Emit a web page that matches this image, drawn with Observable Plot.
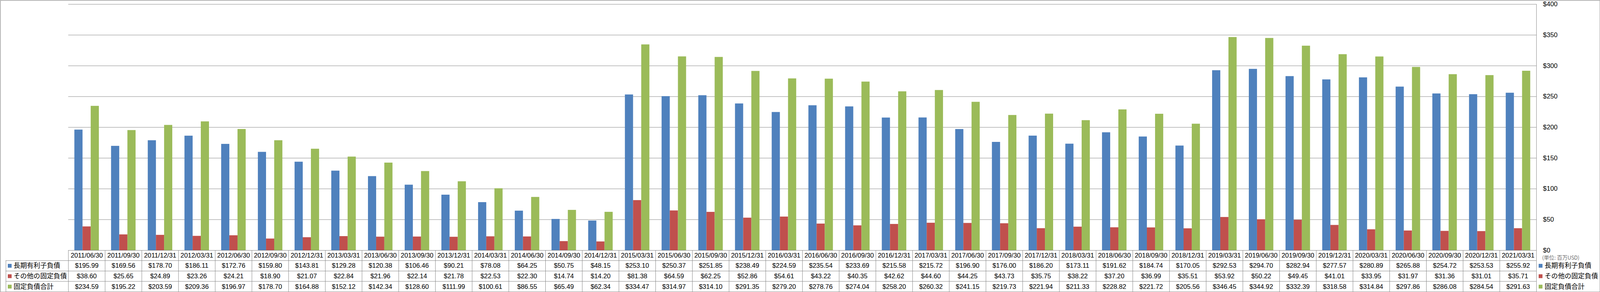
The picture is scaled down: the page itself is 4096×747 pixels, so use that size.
<!DOCTYPE html>
<html><head><meta charset="utf-8">
<script src="https://cdn.jsdelivr.net/npm/d3@7"></script>
<script src="https://cdn.jsdelivr.net/npm/@observablehq/plot@0.6"></script>
<style>html,body{margin:0;padding:0;background:#fff;overflow:hidden}</style>
</head><body><div id="chart"></div>
<script>
// ---- data ----
const categories = ["2011/06/30","2011/09/30","2011/12/31","2012/03/31","2012/06/30","2012/09/30","2012/12/31","2013/03/31","2013/06/30","2013/09/30","2013/12/31","2014/03/31","2014/06/30","2014/09/30","2014/12/31","2015/03/31","2015/06/30","2015/09/30","2015/12/31","2016/03/31","2016/06/30","2016/09/30","2016/12/31","2017/03/31","2017/06/30","2017/09/30","2017/12/31","2018/03/31","2018/06/30","2018/09/30","2018/12/31","2019/03/31","2019/06/30","2019/09/30","2019/12/31","2020/03/31","2020/06/30","2020/09/30","2020/12/31","2021/03/31"];
const seriesNames = ["長期有利子負債","その他の固定負債","固定負債合計"];
const longTermDebt = [195.99,169.56,178.70,186.11,172.76,159.80,143.81,129.28,120.38,106.46,90.21,78.08,64.25,50.75,48.15,253.10,250.37,251.85,238.49,224.59,235.54,233.69,215.58,215.72,196.90,176.00,186.20,173.11,191.62,184.74,170.05,292.53,294.70,282.94,277.57,280.89,265.88,254.72,253.53,255.92];
const otherFixed = [38.60,25.65,24.89,23.26,24.21,18.90,21.07,22.84,21.96,22.14,21.78,22.53,22.30,14.74,14.20,81.38,64.59,62.25,52.86,54.61,43.22,40.35,42.62,44.60,44.25,43.73,35.75,38.22,37.20,36.99,35.51,53.92,50.22,49.45,41.01,33.95,31.97,31.36,31.01,35.71];
const totalFixed = [234.59,195.22,203.59,209.36,196.97,178.70,164.88,152.12,142.34,128.60,111.99,100.61,86.55,65.49,62.34,334.47,314.97,314.10,291.35,279.20,278.76,274.04,258.20,260.32,241.15,219.73,221.94,211.33,228.82,221.72,205.56,346.45,344.92,332.39,318.58,314.84,297.86,286.08,284.54,291.63];
const yTicks = [0,50,100,150,200,250,300,350,400];
const unitLabel = "(単位: 百万USD)";

// ---- layout / style ----
const colors = ["#4F81BD","#C0504D","#9BBB59"];
const series = [longTermDebt, otherFixed, totalFixed];
const S = 4096/5876;
const W = 4096, H = 747;
const ml = 250.5*S, mr = 234*S, mt = 15*S, mb = (1071-917.5)*S;
const bw = (W - ml - mr)/categories.length;
const pxPerUnit = (H - mt - mb)/400;
const u = px => -px*S/pxPerUnit;           // reference px below baseline -> y units
const rowLines = [37.5, 75.8, 113.8, 152.5];
const headerCenter = 18.7;
const rowCenters = [56.6, 94.8, 133];
const barOff = 22.6*S, barW = 30*S;
const gray = "#868686";
const latin = "'Liberation Sans','Noto Sans CJK JP',sans-serif";
const cjk = "'Noto Sans CJK JP','Noto Sans',sans-serif";
const fs = 24*S;

const rows = categories.map((c,i)=>({c, i}));
const marks = [];

// gridlines
marks.push(Plot.ruleY(yTicks, {y: d=>d, stroke: gray, strokeWidth: 1}));
// bars
series.forEach((vals,k)=>{
  marks.push(Plot.barY(rows, {x: "c", y: d=>vals[d.i], fill: colors[k],
    insetLeft: barOff + k*barW, insetRight: bw - barOff - (k+1)*barW}));
});
// table vertical lines
marks.push(Plot.ruleX(categories, {x: d=>d, dx: -bw/2, y1: ()=>0, y2: ()=>u(rowLines[3]), stroke: gray}));
marks.push(Plot.ruleX([categories[categories.length-1]], {x: d=>d, dx: bw/2, y1: ()=>400, y2: ()=>u(rowLines[3]), stroke: gray}));
marks.push(Plot.ruleX([categories[0]], {x: d=>d, dx: -bw/2 - (250.5-21)*S, y1: ()=>u(rowLines[0]), y2: ()=>u(rowLines[3]), stroke: gray}));
// table horizontal lines
marks.push(Plot.ruleY(rowLines, {y: d=>u(d), insetLeft: -(250.5-21)*S, stroke: gray}));
// header text
marks.push(Plot.text(categories, {x: d=>d, y: ()=>u(headerCenter), text: d=>d, fontSize: fs, fontFamily: latin, fill: "#000"}));
// values
series.forEach((vals,k)=>{
  marks.push(Plot.text(rows, {x: "c", y: ()=>u(rowCenters[k]), text: d=>"$"+vals[d.i].toFixed(2), fontSize: fs, fontFamily: latin, fill: "#000"}));
});
// legend in table + right legend
seriesNames.forEach((name,k)=>{
  marks.push(Plot.dot([name], {y: ()=>u(rowCenters[k]), frameAnchor: "left", dx: (35-250.5)*S, symbol: "square", r: 5.5, fill: colors[k], stroke: "none"}));
  marks.push(Plot.text([name], {y: ()=>u(rowCenters[k]), frameAnchor: "left", dx: (49-250.5)*S, textAnchor: "start", text: d=>d, fontSize: 24.5*S, fontFamily: cjk, fill: "#000"}));
  marks.push(Plot.dot([name], {y: ()=>u(rowCenters[k]), frameAnchor: "right", dx: (5657-5642)*S, symbol: "square", r: 5.5, fill: colors[k], stroke: "none"}));
  marks.push(Plot.text([name], {y: ()=>u(rowCenters[k]), frameAnchor: "right", dx: (5672-5642)*S, textAnchor: "start", text: d=>d, fontSize: 24.5*S, fontFamily: cjk, fill: "#000"}));
});
// unit label
marks.push(Plot.text([unitLabel], {y: ()=>u(28), frameAnchor: "right", dx: (5663-5642)*S, textAnchor: "start", text: d=>d, fontSize: 13.5, fontFamily: cjk, fontWeight: 300, fill: "#222"}));
// outer border
marks.push(Plot.frame({stroke: gray, strokeWidth: 1.2, insetLeft: -ml+0.6, insetTop: -mt+0.6, insetRight: -mr+0.6, insetBottom: -mb+0.6}));

const chart = Plot.plot({
  width: W, height: H,
  marginLeft: ml, marginRight: mr, marginTop: mt, marginBottom: mb,
  x: {domain: categories, padding: 0, round: false, axis: null},
  y: {domain: [0,400], axis: "right", ticks: 8, tickSize: 0, tickPadding: 24*S, tickFormat: d=>"$"+d, label: null},
  style: {fontFamily: latin, fontSize: fs+"px", color: "#000", background: "#fff"},
  marks
});
document.getElementById("chart").appendChild(chart);
</script>
</body></html>
